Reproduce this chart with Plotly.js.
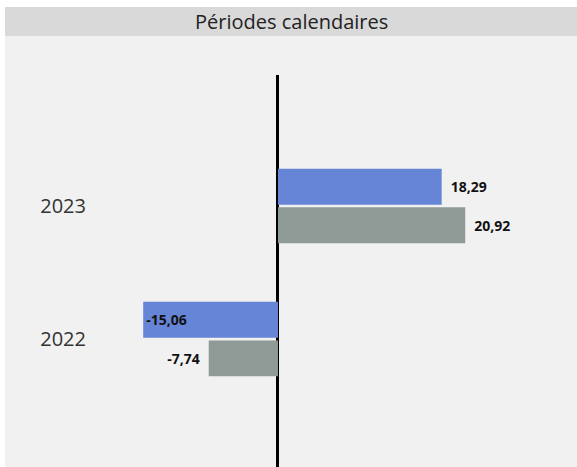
<!DOCTYPE html>
<html><head><meta charset="utf-8">
<script src="https://cdn.plot.ly/plotly-3.0.1.min.js"></script>
<style>html,body{margin:0;padding:0;background:#fff}#c{width:577px;height:467px}</style>
</head><body><div id="c"></div>
<script>
const categories = ['2022', '2023'];
const seriesA = [-15.06, 18.29];   // blue
const seriesB = [-7.74, 20.92];    // grey
const title = 'Périodes calendaires';

const W = 577, H = 467, L = 92, T = 75;
const pw = W - L, ph = H - T;
const px = v => (v - L) / pw;
const py = v => (H - v) / ph;
const GAP = '\u2009\u00a0';
const tpl = vals => vals.map(v => v < 0 ? '%{x:.2f}' + GAP : GAP + '%{x:.2f}');
const tplA = seriesA.map(v => v < 0 ? '%{x:.2f}' : GAP + '%{x:.2f}');
const lblFont = {family:'Open Sans', size:14, color:'#111', weight:700};

const traces = [
  {type:'bar', orientation:'h', y:categories, x:seriesB, name:'B',
   marker:{color:'#8f9a96', line:{width:0}},
   texttemplate:tpl(seriesB), textposition:['outside','outside'],
   textfont:lblFont, outsidetextfont:lblFont, cliponaxis:false},
  {type:'bar', orientation:'h', y:categories, x:seriesA, name:'A',
   marker:{color:'#6785d6', line:{width:0}},
   texttemplate:tplA, textposition:['inside','outside'],
   insidetextanchor:'end',
   textfont:lblFont, insidetextfont:lblFont, outsidetextfont:lblFont, cliponaxis:false}
];

const layout = {
  width:W, height:H,
  margin:{l:L, r:0, t:T, b:0, pad:0},
  paper_bgcolor:'#f1f1f1', plot_bgcolor:'#f1f1f1',
  separators:', ',
  showlegend:false,
  barmode:'group', bargap:0.42, bargroupgap:0.07,
  xaxis:{range:[-20.78, 33.41], showgrid:false, showticklabels:false, ticks:'',
         zeroline:true, zerolinecolor:'#000', zerolinewidth:3, fixedrange:true},
  yaxis:{type:'category', range:[-0.962, 1.985], showgrid:false, zeroline:false, ticks:'',
         tickfont:{family:'Open Sans', size:20, color:'#333'}, ticklabelstandoff:5},
  shapes:[
    {type:'rect', xref:'paper', yref:'paper', x0:px(0), x1:px(W), y0:py(7), y1:py(0),
     fillcolor:'#ffffff', line:{width:0}, layer:'below'},
    {type:'rect', xref:'paper', yref:'paper', x0:px(0), x1:px(5), y0:py(H), y1:py(0),
     fillcolor:'#ffffff', line:{width:0}, layer:'below'},
    {type:'rect', xref:'paper', yref:'paper', x0:px(5), x1:px(W), y0:py(36), y1:py(7),
     fillcolor:'#d9d9d9', line:{width:0}, layer:'below'}
  ],
  annotations:[
    {xref:'paper', yref:'paper', x:px(291), y:py(21.5), text:title, showarrow:false,
     xanchor:'center', yanchor:'middle',
     font:{family:'Open Sans', size:20, color:'#222'}}
  ]
};

Plotly.newPlot('c', traces, layout, {staticPlot:true, displayModeBar:false});
</script></body></html>
